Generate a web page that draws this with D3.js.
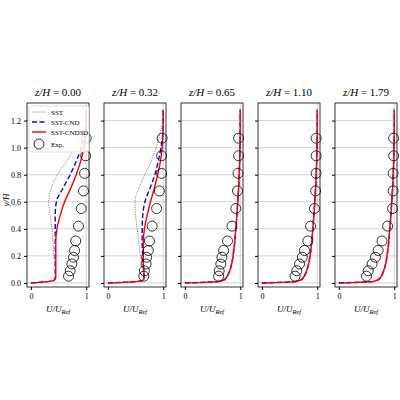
<!DOCTYPE html>
<html><head><meta charset="utf-8">
<script src="https://cdn.jsdelivr.net/npm/d3@7"></script>
<style>body{margin:0;background:#fff}text{font-family:"Liberation Serif","DejaVu Serif",serif}</style>
</head><body><svg id="c" width="400" height="400"></svg>
<script>
const titles = ['0.00', '0.32', '0.65', '1.10', '1.79'];
const yGrid = [0, 0.01, 0.02, 0.04, 0.08, 0.15, 0.2, 0.3, 0.4, 0.5, 0.6, 0.7, 0.8, 0.9, 1.0, 1.1, 1.2, 1.28];
const bl = [0, 0.6, 0.7, 0.75, 0.8, 0.85, 0.87, 0.9, 0.92, 0.94, 0.955, 0.97, 0.98, 0.99, 0.995, 1, 1, 1];
const sst = [
  [0, 0.3, 0.42, 0.44, 0.44, 0.43, 0.41, 0.4, 0.38, 0.35, 0.32, 0.37, 0.48, 0.65, 0.8, 0.91, 0.98, 1],
  [0, 0.5, 0.63, 0.65, 0.64, 0.62, 0.59, 0.56, 0.53, 0.5, 0.49, 0.56, 0.67, 0.78, 0.87, 0.94, 0.99, 1],
  bl, bl, bl];
const cnd = [
  [0, 0.3, 0.42, 0.44, 0.44, 0.44, 0.44, 0.44, 0.44, 0.44, 0.46, 0.58, 0.71, 0.82, 0.91, 0.97, 1, 1],
  [0, 0.5, 0.63, 0.65, 0.65, 0.64, 0.63, 0.62, 0.62, 0.63, 0.67, 0.76, 0.85, 0.91, 0.96, 0.99, 1, 1],
  bl, bl, bl];
const cnd3d = [
  [0, 0.3, 0.42, 0.45, 0.45, 0.45, 0.45, 0.45, 0.47, 0.53, 0.61, 0.72, 0.82, 0.9, 0.96, 0.99, 1, 1],
  [0, 0.5, 0.63, 0.66, 0.65, 0.64, 0.64, 0.64, 0.66, 0.71, 0.77, 0.84, 0.9, 0.95, 0.98, 0.995, 1, 1],
  bl, bl, bl];
const expY = [0.05, 0.09, 0.14, 0.19, 0.24, 0.31, 0.42, 0.55, 0.68, 0.81, 0.94, 1.07];
const expX = [
  [0.68, 0.71, 0.74, 0.77, 0.79, 0.81, 0.86, 0.91, 0.95, 0.97, 0.99, 1.0],
  [0.65, 0.66, 0.69, 0.7, 0.73, 0.75, 0.8, 0.88, 0.93, 0.97, 0.97, 0.98],
  [0.61, 0.62, 0.65, 0.67, 0.7, 0.77, 0.85, 0.92, 0.95, 0.96, 0.97, 0.97],
  [0.6, 0.63, 0.68, 0.73, 0.77, 0.83, 0.88, 0.95, 0.97, 0.98, 0.98, 0.98],
  [0.5, 0.53, 0.6, 0.66, 0.71, 0.78, 0.88, 0.97, 0.98, 0.98, 0.99, 0.99]];
const yTicks = [0, 0.2, 0.4, 0.6, 0.8, 1.0, 1.2];

const svg = d3.select('#c');
const y = d3.scaleLinear().domain([-0.03, 1.33]).range([287, 103]);
const pw = 62, x0 = 27, step = 77;

titles.forEach((t, i) => {
  const left = x0 + i * step;
  const x = d3.scaleLinear().domain([-0.07, 1.05]).range([left, left + pw]);
  const g = svg.append('g');
  g.selectAll('.gl').data(yTicks).join('line')
    .attr('x1', left).attr('x2', left + pw).attr('y1', d => y(d)).attr('y2', d => y(d))
    .attr('stroke', '#c8c8c8').attr('stroke-width', 0.8);
  g.append('line').attr('x1', x(1)).attr('x2', x(1)).attr('y1', 103).attr('y2', 287)
    .attr('stroke', '#c8c8c8').attr('stroke-width', 0.8);
  const ax = g.append('g').attr('transform', 'translate(0,287)')
    .call(d3.axisBottom(x).tickValues([0, 1]).tickFormat(d3.format('d')).tickSize(3));
  const ay = g.append('g').attr('transform', `translate(${left},0)`)
    .call(d3.axisLeft(y).tickValues(yTicks).tickFormat(i === 0 ? d3.format('.1f') : '').tickSize(3));
  [ax, ay].forEach(a => { a.select('.domain').remove(); a.selectAll('text').attr('font-size', 8).attr('font-family', 'Liberation Serif'); });
  const line = d3.line().x(d => x(d[0])).y(d => y(d[1])).curve(d3.curveMonotoneY);
  const mk = arr => arr.map((v, k) => [v, yGrid[k]]);
  g.append('path').attr('d', line(mk(sst[i]))).attr('fill', 'none').attr('stroke', '#888').attr('stroke-width', 1).attr('stroke-dasharray', '1.2,1.2');
  g.append('path').attr('d', line(mk(cnd[i]))).attr('fill', 'none').attr('stroke', '#0000ff').attr('stroke-width', 1.4).attr('stroke-dasharray', '5,2.5');
  g.append('path').attr('d', line(mk(cnd3d[i]))).attr('fill', 'none').attr('stroke', '#ff0000').attr('stroke-width', 1.4);
  g.selectAll('circle').data(expY).join('circle')
    .attr('cx', (d, k) => x(expX[i][k])).attr('cy', d => y(d)).attr('r', 5)
    .attr('fill', 'none').attr('stroke', '#000').attr('stroke-width', 0.8);
  g.append('rect').attr('x', left).attr('y', 103).attr('width', pw).attr('height', 184)
    .attr('fill', 'none').attr('stroke', '#000').attr('stroke-width', 0.8);
  const tt = g.append('text').attr('x', left + pw / 2).attr('y', 96).attr('text-anchor', 'middle').attr('font-size', 11);
  tt.append('tspan').attr('font-style', 'italic').text('z/H');
  tt.append('tspan').text(' = ' + t);
  const xl = g.append('text').attr('x', left + pw / 2).attr('y', 312).attr('text-anchor', 'middle').attr('font-size', 9).attr('font-style', 'italic');
  xl.append('tspan').text('U/U');
  xl.append('tspan').attr('font-size', 6.5).attr('dy', 2).text('Ref');
});

svg.append('text').attr('transform', 'translate(9,200) rotate(-90)').attr('text-anchor', 'middle')
  .attr('font-size', 9).attr('font-style', 'italic').text('y/H');

// legend
const lg = svg.append('g').attr('transform', 'translate(29,106)');
lg.append('rect').attr('width', 60).attr('height', 46).attr('fill', '#fff').attr('fill-opacity', 0.85).attr('stroke', '#ccc').attr('stroke-width', 0.6).attr('rx', 2);
const items = [['SST', '#888', '1.2,1.2', 1], ['SST-CND', '#0000ff', '5,2.5', 1.4], ['SST-CND3D', '#ff0000', null, 1.4]];
items.forEach((it, k) => {
  const yy = 6 + k * 10;
  lg.append('line').attr('x1', 3).attr('x2', 17).attr('y1', yy).attr('y2', yy).attr('stroke', it[1]).attr('stroke-width', it[3]).attr('stroke-dasharray', it[2]);
  lg.append('text').attr('x', 22).attr('y', yy + 2.5).attr('font-size', 7).text(it[0]);
});
lg.append('circle').attr('cx', 10).attr('cy', 38).attr('r', 5).attr('fill', 'none').attr('stroke', '#000').attr('stroke-width', 0.8);
lg.append('text').attr('x', 22).attr('y', 40.5).attr('font-size', 7).text('Exp.');
</script></body></html>
